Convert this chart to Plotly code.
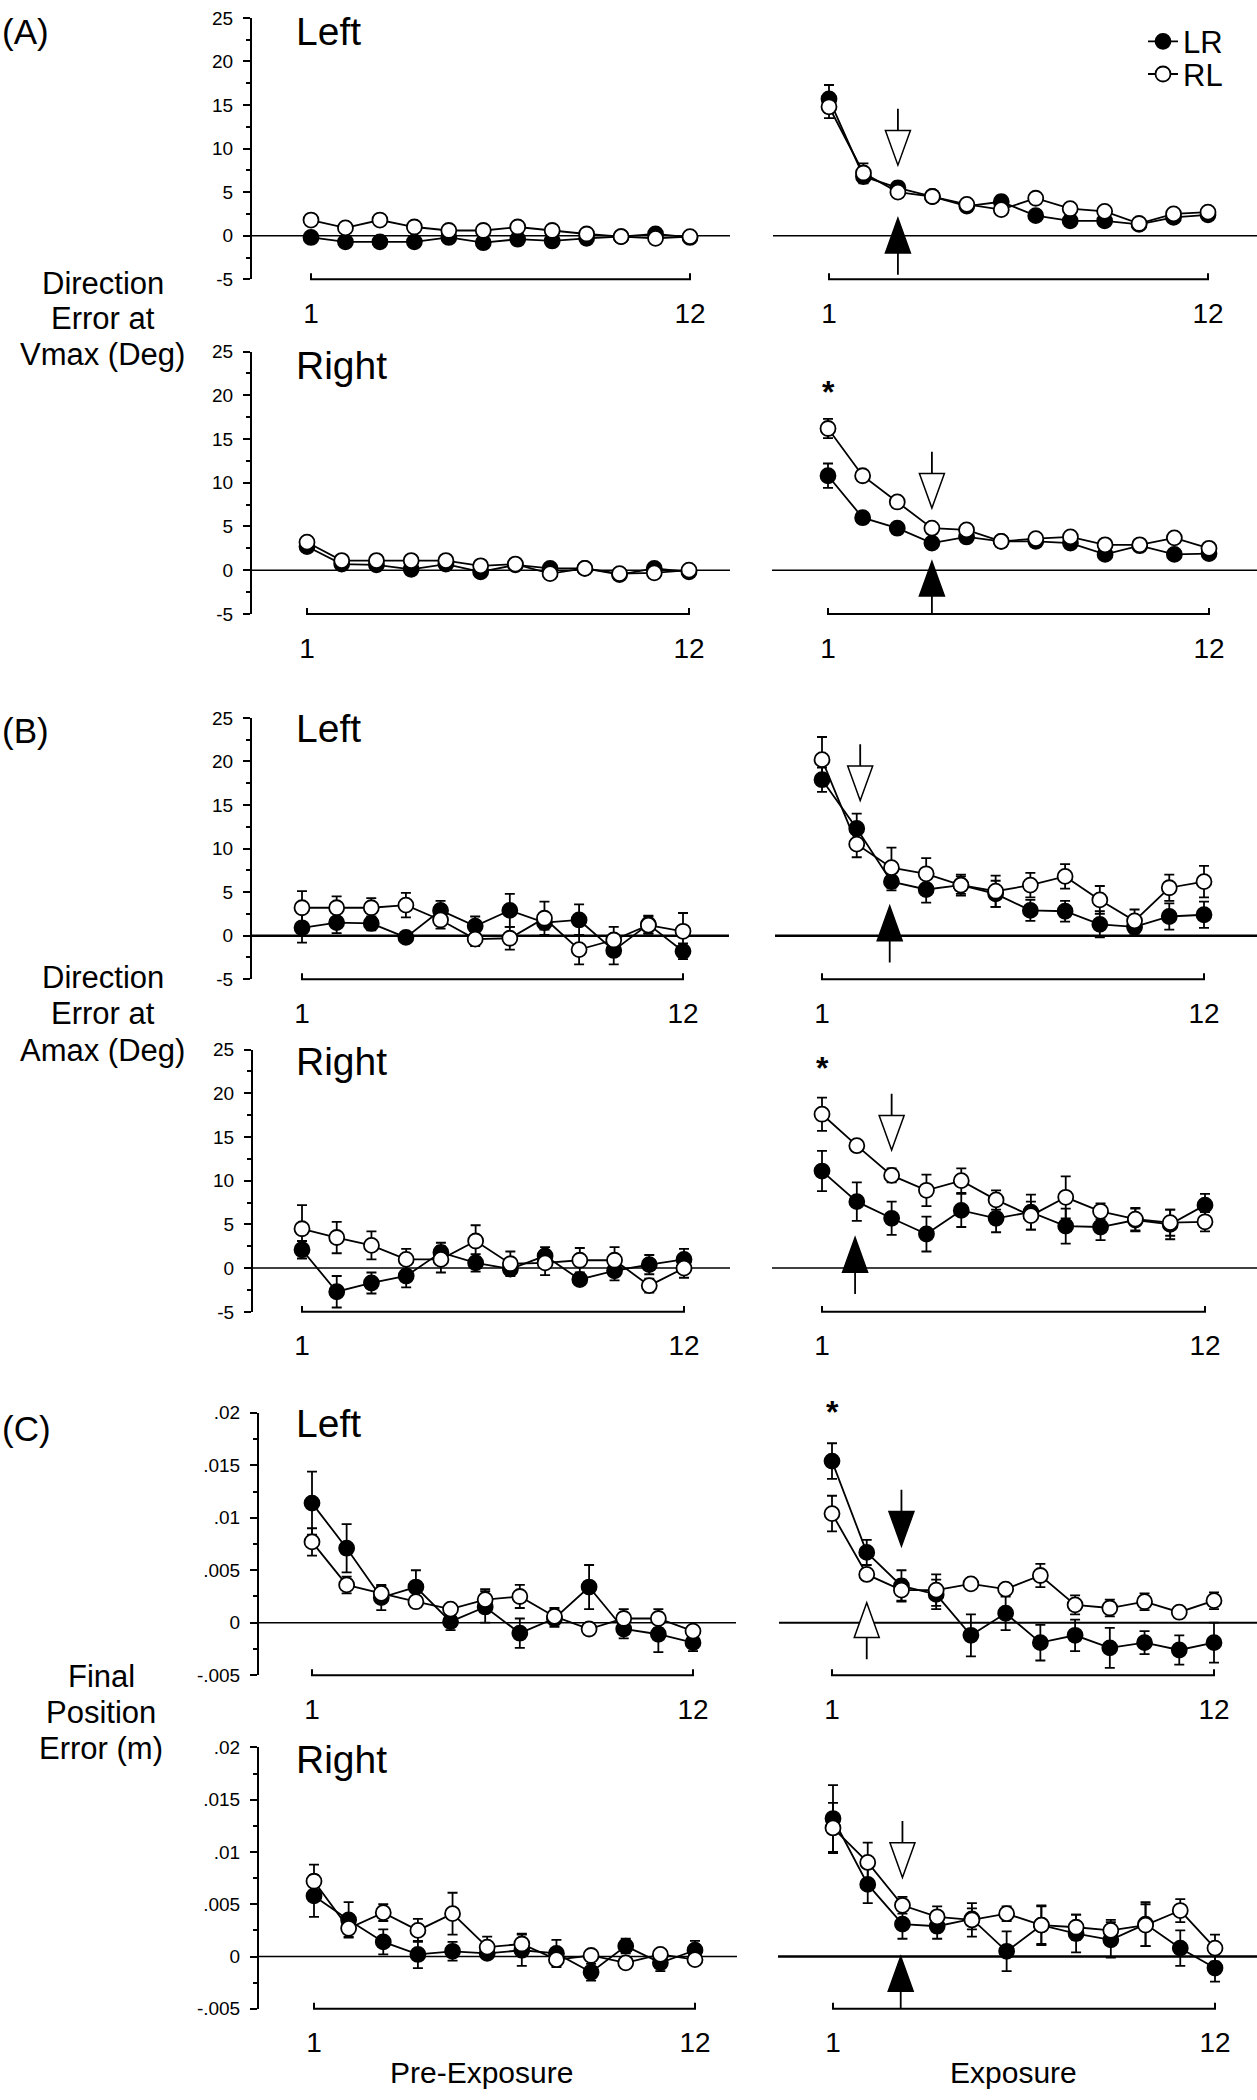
import plotly.graph_objects as go

# ---------------- data ----------------
trial = [1, 2, 3, 4, 5, 6, 7, 8, 9, 10, 11, 12]
tick_x = [1, 12]
tick_x_text = ["1", "12"]

deg_ticks = [-5, 0, 5, 10, 15, 20, 25]
deg_tick_text = ["-5", "0", "5", "10", "15", "20", "25"]
deg_minor = [-2.5, 2.5, 7.5, 12.5, 17.5, 22.5]
m_ticks = [-0.005, 0, 0.005, 0.01, 0.015, 0.02]
m_tick_text = ["-.005", "0", ".005", ".01", ".015", ".02"]
m_minor = [-0.0025, 0.0025, 0.0075, 0.0125, 0.0175]

# (A) Direction error at Vmax - Left
A_left_pre_LR = [-0.2, -0.7, -0.7, -0.7, -0.2, -0.8, -0.4, -0.6, -0.3, -0.1, 0.2, -0.2]
A_left_pre_LR_err = [0.3, 0.3, 0.3, 0.3, 0.3, 0.3, 0.3, 0.3, 0.3, 0.3, 0.3, 0.3]
A_left_pre_RL = [1.8, 0.9, 1.8, 1.0, 0.6, 0.6, 1.0, 0.6, 0.2, -0.1, -0.3, -0.1]
A_left_pre_RL_err = [0.3, 0.3, 0.3, 0.3, 0.3, 0.3, 0.3, 0.3, 0.3, 0.3, 0.3, 0.3]
A_left_exp_LR = [15.7, 6.8, 5.5, 4.5, 3.4, 3.9, 2.3, 1.7, 1.7, 1.3, 2.1, 2.4]
A_left_exp_LR_err = [1.6, 0.8, 0.7, 0.5, 0.4, 0.7, 0.4, 0.4, 0.4, 0.4, 0.4, 0.4]
A_left_exp_RL = [14.8, 7.2, 5.0, 4.5, 3.6, 3.0, 4.3, 3.1, 2.8, 1.4, 2.5, 2.7]
A_left_exp_RL_err = [1.3, 1.1, 0.6, 0.4, 0.4, 0.4, 0.4, 0.4, 0.4, 0.4, 0.4, 0.4]
# (A) Right
A_right_pre_LR = [2.7, 0.7, 0.6, 0.1, 0.7, -0.2, 0.6, 0.2, 0.2, -0.5, 0.2, -0.2]
A_right_pre_LR_err = [0.3, 0.3, 0.3, 0.3, 0.3, 0.3, 0.3, 0.3, 0.3, 0.3, 0.3, 0.3]
A_right_pre_RL = [3.2, 1.1, 1.1, 1.1, 1.1, 0.5, 0.7, -0.4, 0.2, -0.4, -0.3, 0.0]
A_right_pre_RL_err = [0.3, 0.3, 0.3, 0.3, 0.3, 0.3, 0.3, 0.3, 0.3, 0.3, 0.3, 0.3]
A_right_exp_LR = [10.8, 6.0, 4.8, 3.1, 3.8, 3.3, 3.3, 3.1, 1.8, 2.8, 1.8, 1.9]
A_right_exp_LR_err = [1.4, 0.5, 0.4, 0.4, 0.4, 0.4, 0.4, 0.4, 0.4, 0.4, 0.4, 0.4]
A_right_exp_RL = [16.2, 10.8, 7.8, 4.8, 4.6, 3.3, 3.6, 3.8, 2.9, 2.9, 3.7, 2.5]
A_right_exp_RL_err = [1.1, 0.5, 0.4, 0.4, 0.4, 0.4, 0.4, 0.4, 0.4, 0.4, 0.4, 0.4]

# (B) Direction error at Amax - Left
B_left_pre_LR = [0.9, 1.5, 1.4, -0.2, 2.9, 1.1, 2.9, 1.5, 1.8, -1.7, 1.3, -1.8]
B_left_pre_LR_err = [1.7, 1.2, 0.8, 0.5, 1.1, 1.1, 1.9, 0.8, 1.8, 1.6, 1.0, 0.9]
B_left_pre_RL = [3.2, 3.2, 3.2, 3.5, 1.8, -0.4, -0.3, 2.0, -1.6, -0.5, 1.2, 0.5]
B_left_pre_RL_err = [1.9, 1.3, 1.1, 1.4, 1.0, 0.8, 1.3, 1.9, 1.7, 1.5, 1.0, 2.1]
B_left_exp_LR = [17.9, 12.3, 6.2, 5.3, 5.8, 4.8, 2.9, 2.8, 1.3, 1.0, 2.2, 2.4]
B_left_exp_LR_err = [1.4, 1.7, 1.0, 1.5, 1.0, 1.5, 1.2, 1.2, 1.5, 0.8, 1.5, 1.5]
B_left_exp_RL = [20.2, 10.5, 7.8, 7.1, 5.8, 5.1, 5.8, 6.8, 4.1, 1.7, 5.5, 6.2]
B_left_exp_RL_err = [2.6, 1.5, 2.3, 1.8, 1.2, 1.8, 1.4, 1.4, 1.6, 1.3, 1.5, 1.8]
# (B) Right
B_right_pre_LR = [2.1, -2.7, -1.7, -0.9, 1.8, 0.6, -0.1, 1.4, -1.3, -0.3, 0.4, 1.0]
B_right_pre_LR_err = [1.0, 1.8, 1.2, 1.3, 1.1, 1.0, 0.6, 1.0, 0.6, 1.1, 1.1, 1.2]
B_right_pre_RL = [4.5, 3.5, 2.6, 1.0, 1.0, 3.1, 0.5, 0.6, 0.9, 0.9, -2.0, 0.0]
B_right_pre_RL_err = [2.7, 1.8, 1.6, 1.2, 1.5, 1.8, 1.4, 1.4, 1.4, 1.5, 0.8, 1.1]
B_right_exp_LR = [11.1, 7.6, 5.7, 3.9, 6.6, 5.7, 6.4, 4.8, 4.7, 5.5, 5.0, 7.2]
B_right_exp_LR_err = [2.3, 2.2, 1.9, 2.0, 1.9, 1.6, 2.0, 2.0, 1.5, 1.3, 1.7, 1.3]
B_right_exp_RL = [17.6, 14.0, 10.6, 8.9, 10.0, 7.8, 6.0, 8.1, 6.5, 5.6, 5.2, 5.3]
B_right_exp_RL_err = [1.9, 0.5, 0.8, 1.8, 1.4, 1.1, 1.6, 2.4, 0.9, 1.3, 1.5, 1.1]

# (C) Final position error (m) - Left
C_left_pre_LR = [0.0114, 0.0071, 0.0024, 0.0034, 0.0001, 0.0015, -0.0010, 0.0004, 0.0034, -0.0006, -0.0011, -0.0019]
C_left_pre_LR_err = [0.0030, 0.0023, 0.0012, 0.0016, 0.0008, 0.0015, 0.0014, 0.0008, 0.0021, 0.0009, 0.0017, 0.0008]
C_left_pre_RL = [0.0077, 0.0036, 0.0028, 0.0020, 0.0013, 0.0022, 0.0025, 0.0006, -0.0006, 0.0004, 0.0004, -0.0008]
C_left_pre_RL_err = [0.0013, 0.0008, 0.0007, 0.0005, 0.0005, 0.0010, 0.0011, 0.0008, 0.0005, 0.0009, 0.0009, 0.0005]
C_left_exp_LR = [0.0154, 0.0067, 0.0035, 0.0027, -0.0012, 0.0009, -0.0019, -0.0012, -0.0024, -0.0019, -0.0026, -0.0019]
C_left_exp_LR_err = [0.0017, 0.0012, 0.0015, 0.0014, 0.0020, 0.0016, 0.0017, 0.0015, 0.0019, 0.0011, 0.0014, 0.0019]
C_left_exp_RL = [0.0104, 0.0046, 0.0031, 0.0031, 0.0037, 0.0032, 0.0045, 0.0017, 0.0014, 0.0020, 0.0010, 0.0021]
C_left_exp_RL_err = [0.0017, 0.0005, 0.0010, 0.0015, 0.0005, 0.0005, 0.0011, 0.0009, 0.0008, 0.0008, 0.0005, 0.0008]
# (C) Right
C_right_pre_LR = [0.0058, 0.0035, 0.0014, 0.0002, 0.0005, 0.0003, 0.0006, 0.0003, -0.0015, 0.0010, -0.0006, 0.0006]
C_right_pre_LR_err = [0.0020, 0.0017, 0.0012, 0.0013, 0.0009, 0.0005, 0.0015, 0.0013, 0.0008, 0.0007, 0.0008, 0.0009]
C_right_pre_RL = [0.0072, 0.0027, 0.0042, 0.0025, 0.0041, 0.0009, 0.0012, -0.0003, 0.0001, -0.0006, 0.0002, -0.0003]
C_right_pre_RL_err = [0.0016, 0.0008, 0.0008, 0.0011, 0.0020, 0.0010, 0.0010, 0.0004, 0.0004, 0.0004, 0.0004, 0.0004]
C_right_exp_LR = [0.0132, 0.0069, 0.0031, 0.0029, 0.0036, 0.0005, 0.0030, 0.0022, 0.0016, 0.0031, 0.0008, -0.0011]
C_right_exp_LR_err = [0.0032, 0.0018, 0.0014, 0.0012, 0.0010, 0.0019, 0.0018, 0.0018, 0.0017, 0.0021, 0.0017, 0.0013]
C_right_exp_RL = [0.0123, 0.0090, 0.0049, 0.0038, 0.0035, 0.0041, 0.0030, 0.0028, 0.0025, 0.0030, 0.0044, 0.0008]
C_right_exp_RL_err = [0.0024, 0.0019, 0.0008, 0.0010, 0.0016, 0.0007, 0.0019, 0.0012, 0.0010, 0.0020, 0.0011, 0.0013]

# arrows in exposure panels: (trial, tip value) ; open / filled, and direction
arrow_open = [(3, 8.1), (4, 7.1), (2.1, 15.5), (3, 13.5), (2, 0.0019), (3, 0.00756)]
arrow_open_dir = ["down", "down", "down", "down", "up", "down"]
arrow_filled = [(3, 2.0), (4, 1.0), (2.95, 3.4), (1.95, 3.5), (3, 0.0073), (2.95, 0.0)]
arrow_filled_dir = ["up", "up", "up", "up", "down", "up"]
# significance markers: (row, value)
star_rows = [1, 3, 4]
star_vals = [20.8, 23.3, 0.0205]

row_titles = ["Left", "Right", "Left", "Right", "Left", "Right"]

panels = [
    (A_left_pre_LR, A_left_pre_LR_err, A_left_pre_RL, A_left_pre_RL_err),
    (A_left_exp_LR, A_left_exp_LR_err, A_left_exp_RL, A_left_exp_RL_err),
    (A_right_pre_LR, A_right_pre_LR_err, A_right_pre_RL, A_right_pre_RL_err),
    (A_right_exp_LR, A_right_exp_LR_err, A_right_exp_RL, A_right_exp_RL_err),
    (B_left_pre_LR, B_left_pre_LR_err, B_left_pre_RL, B_left_pre_RL_err),
    (B_left_exp_LR, B_left_exp_LR_err, B_left_exp_RL, B_left_exp_RL_err),
    (B_right_pre_LR, B_right_pre_LR_err, B_right_pre_RL, B_right_pre_RL_err),
    (B_right_exp_LR, B_right_exp_LR_err, B_right_exp_RL, B_right_exp_RL_err),
    (C_left_pre_LR, C_left_pre_LR_err, C_left_pre_RL, C_left_pre_RL_err),
    (C_left_exp_LR, C_left_exp_LR_err, C_left_exp_RL, C_left_exp_RL_err),
    (C_right_pre_LR, C_right_pre_LR_err, C_right_pre_RL, C_right_pre_RL_err),
    (C_right_exp_LR, C_right_exp_LR_err, C_right_exp_RL, C_right_exp_RL_err),
]

# ---------------- layout geometry (pixels) ----------------
W, H = 1257, 2100
FONT = "Liberation Sans, Arial, Helvetica, sans-serif"
ROW_TOP = [8, 345, 715, 1050, 1417, 1755]
ROW_BOT = [272, 610, 979, 1315, 1682, 2019]
L_AXIS = [252, 252, 252, 253, 259, 259]
L_X1 = [311, 307, 302, 302, 312, 314]
L_X12 = [690, 689, 683, 684, 693, 695]
L_END = [730, 730, 729, 730, 736, 737]
R_START = [773, 772, 775, 772, 779, 778]
R_X1 = [829, 828, 822, 822, 832, 833]
R_X12 = [1208, 1209, 1204, 1205, 1214, 1215]
ZERO_W = [(1.5, 1.5), (1.5, 1.5), (2.5, 2.5), (1.5, 1.5), (1.5, 2), (1.5, 2.5)]
LINE_W = 1.8
MARK = 15


def px_x(p):
    return p / W


def px_y(p):
    return 1 - p / H


fig = go.Figure()
shapes = []
annotations = []
geom = {}

for r in range(6):
    is_m = r >= 4
    yr = [-0.005, 0.02] if is_m else [-5, 25]
    ys = (ROW_BOT[r] - ROW_TOP[r]) / (yr[1] - yr[0])  # px per unit
    for c in range(2):
        k = 2 * r + c + 1
        sfx = "" if k == 1 else str(k)
        if c == 0:
            left, right, x1p, x12p = L_AXIS[r], L_END[r], L_X1[r], L_X12[r]
        else:
            left, right, x1p, x12p = R_START[r], W, R_X1[r], R_X12[r]
        xs = (x12p - x1p) / 11.0
        xr = [1 + (left - x1p) / xs, 1 + (right - x1p) / xs]
        geom[(r, c)] = (xs, ys, sfx, yr[1])
        fig.layout["xaxis" + sfx] = dict(
            domain=[px_x(left), px_x(right)], range=xr, anchor="y" + sfx,
            tickvals=tick_x, ticktext=tick_x_text, ticks="outside", ticklen=9,
            tickcolor="rgba(0,0,0,0)", showline=False, showgrid=False,
            zeroline=False, tickfont=dict(size=28, color="black", family=FONT),
        )
        ya = dict(
            domain=[px_y(ROW_BOT[r]), px_y(ROW_TOP[r])], range=yr,
            anchor="x" + sfx, showgrid=False, zeroline=False,
        )
        if c == 0:
            ya.update(
                showline=True, linewidth=2, linecolor="black",
                ticks="outside", ticklen=7, tickwidth=1.5, tickcolor="black",
                tickvals=m_ticks if is_m else deg_ticks,
                ticktext=m_tick_text if is_m else deg_tick_text,
                tickfont=dict(size=19, color="black", family=FONT),
                ticklabelstandoff=6,
                minor=dict(tickvals=m_minor if is_m else deg_minor,
                           ticks="outside", ticklen=4, tickwidth=1.5,
                           tickcolor="black"),
            )
        else:
            ya.update(showline=False, ticks="", showticklabels=False)
        fig.layout["yaxis" + sfx] = ya

        LR, LRe, RL, RLe = panels[k - 1]
        fig.add_trace(go.Scatter(
            x=trial, y=LR, mode="lines+markers", name="LR",
            xaxis="x" + sfx, yaxis="y" + sfx, showlegend=(k == 1),
            legend="legend",
            line=dict(color="black", width=LINE_W),
            marker=dict(symbol="circle", size=MARK, color="black",
                        line=dict(color="black", width=1.8)),
            error_y=dict(type="data", array=LRe, color="black",
                         thickness=1.8, width=5),
        ))
        fig.add_trace(go.Scatter(
            x=trial, y=RL, mode="lines+markers", name="RL",
            xaxis="x" + sfx, yaxis="y" + sfx, showlegend=(k == 1),
            legend="legend2",
            line=dict(color="black", width=LINE_W),
            marker=dict(symbol="circle", size=MARK, color="white",
                        line=dict(color="black", width=1.8)),
            error_y=dict(type="data", array=RLe, color="black",
                         thickness=1.8, width=5),
        ))

        # zero reference line
        shapes.append(dict(type="line", xref="x" + sfx + " domain", x0=0, x1=1,
                           yref="y" + sfx, y0=0, y1=0, layer="below",
                           line=dict(color="black", width=ZERO_W[r][c])))
        # bracket x axis from trial 1 to 12
        hgt = 6.0 / (ROW_BOT[r] - ROW_TOP[r])
        shapes.append(dict(
            type="path", xref="x" + sfx, yref="y" + sfx + " domain",
            path=f"M {tick_x[0]},{hgt} L {tick_x[0]},0 L {tick_x[1]},0 L {tick_x[1]},{hgt}",
            line=dict(color="black", width=2),
        ))


def add_arrow(r, xval, tip, direction, filled):
    xs, ys, sfx, _ = geom[(r, 1)]
    hh = 35.0 / ys
    hw = 12.5 / xs
    st = 22.0 / ys
    sgn = 1 if direction == "down" else -1
    base = tip + sgn * hh
    end = base + sgn * st
    shapes.append(dict(type="line", xref="x" + sfx, yref="y" + sfx,
                       x0=xval, x1=xval, y0=base, y1=end,
                       line=dict(color="black", width=1.8)))
    shapes.append(dict(
        type="path", xref="x" + sfx, yref="y" + sfx,
        path=f"M {xval - hw},{base} L {xval + hw},{base} L {xval},{tip} Z",
        fillcolor="black" if filled else "white",
        line=dict(color="black", width=1.5),
    ))


for r in range(6):
    add_arrow(r, arrow_open[r][0], arrow_open[r][1], arrow_open_dir[r], False)
    add_arrow(r, arrow_filled[r][0], arrow_filled[r][1], arrow_filled_dir[r], True)

# significance asterisks (paper y computed from the panel's own scale)
for rr, v in zip(star_rows, star_vals):
    xs, ys, sfx, ytop = geom[(rr, 1)]
    py = ROW_TOP[rr] + (ytop - v) * ys
    annotations.append(dict(xref="x" + sfx, yref="paper", x=1, y=px_y(py),
                            text="<b>*</b>", showarrow=False,
                            yanchor="middle", yshift=-4,
                            font=dict(size=32, color="black", family=FONT)))


def text(s, x, y, size, xanchor="center"):
    annotations.append(dict(xref="paper", yref="paper", x=px_x(x), y=px_y(y),
                            text=s, showarrow=False, xanchor=xanchor,
                            yanchor="middle",
                            font=dict(size=size, color="black", family=FONT)))


# panel letters
text("(A)", 0, 22, 35, xanchor="left")
text("(B)", 0, 728, 35, xanchor="left")
text("(C)", 0, 1433, 35, xanchor="left")
# Left / Right titles
title_y = [22, 359, 726, 1062, 1428, 1767]
for r in range(6):
    text(row_titles[r], 294, title_y[r], 39, xanchor="left")
# y-axis group labels
text("Direction", 103, 276, 31)
text("Error at", 103, 312, 31)
text("Vmax (Deg)", 103, 348, 31)
text("Direction", 103, 977, 31)
text("Error at", 103, 1014, 31)
text("Amax (Deg)", 103, 1051, 31)
text("Final", 101, 1683, 31)
text("Position", 101, 1720, 31)
text("Error (m)", 101, 1756, 31)
# bottom labels
text("Pre-Exposure", 481, 2083, 30)
text("Exposure", 1013, 2083, 30)

leg_common = dict(xanchor="left", yanchor="middle", bgcolor="rgba(0,0,0,0)",
                  borderwidth=0, font=dict(size=31, color="black", family=FONT))
fig.update_layout(
    width=W, height=H, margin=dict(l=0, r=0, t=0, b=0),
    paper_bgcolor="white", plot_bgcolor="white",
    shapes=shapes, annotations=annotations,
    showlegend=True,
    legend=dict(x=px_x(1143), y=px_y(32), **leg_common),
    legend2=dict(x=px_x(1143), y=px_y(65), **leg_common),
    font=dict(family=FONT, color="black"),
)

fig.write_html("out.html", config={"displayModeBar": False},
               post_script="document.body.style.margin='0';")
